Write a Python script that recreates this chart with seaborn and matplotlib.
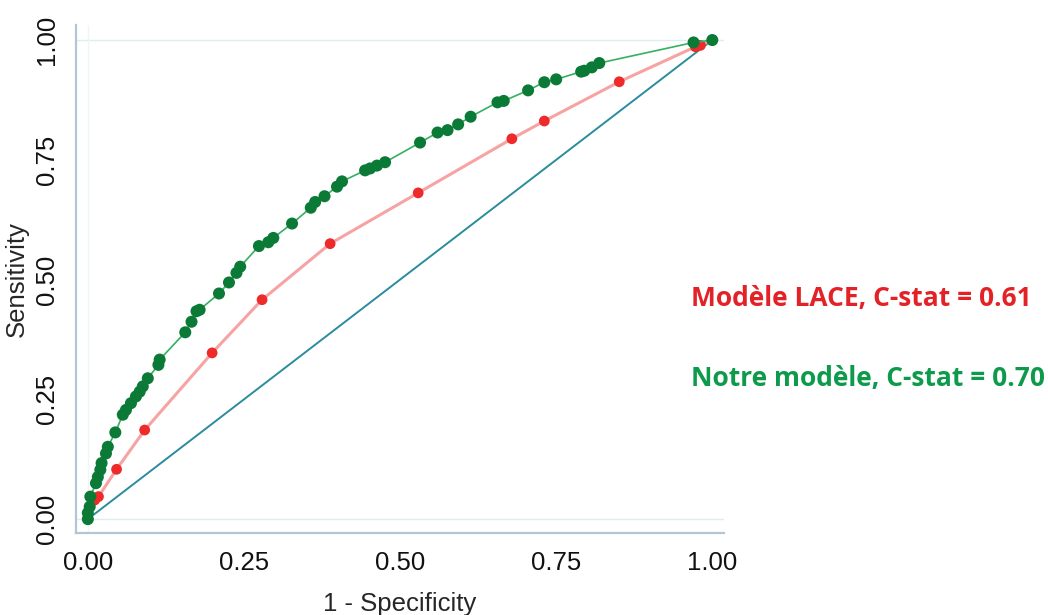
import numpy as np
import pandas as pd
import seaborn as sns
import matplotlib.pyplot as plt

# ROC points
notre_fpr = [0.0, 0.0, 0.003, 0.004, 0.013, 0.016, 0.020, 0.022, 0.029, 0.032,
             0.044, 0.056, 0.061, 0.069, 0.077, 0.083, 0.088, 0.096, 0.113, 0.115,
             0.156, 0.166, 0.174, 0.179, 0.210, 0.226, 0.238, 0.244, 0.274, 0.289,
             0.297, 0.327, 0.357, 0.364, 0.379, 0.399, 0.407, 0.444, 0.452, 0.463,
             0.476, 0.532, 0.560, 0.576, 0.593, 0.613, 0.656, 0.666, 0.705, 0.731,
             0.750, 0.790, 0.795, 0.807, 0.819, 0.970, 1.0]
notre_tpr = [0.0, 0.013, 0.026, 0.047, 0.075, 0.088, 0.103, 0.117, 0.137, 0.151,
             0.181, 0.218, 0.228, 0.242, 0.256, 0.266, 0.277, 0.294, 0.322, 0.333,
             0.390, 0.412, 0.434, 0.437, 0.471, 0.494, 0.514, 0.527, 0.570, 0.578,
             0.587, 0.617, 0.650, 0.662, 0.674, 0.694, 0.705, 0.728, 0.732, 0.738,
             0.745, 0.786, 0.807, 0.812, 0.824, 0.840, 0.870, 0.873, 0.895, 0.912,
             0.918, 0.934, 0.936, 0.943, 0.952, 0.995, 1.0]

lace_fpr = [0.0, 0.011, 0.017, 0.046, 0.091, 0.199, 0.279, 0.388, 0.529,
            0.679, 0.731, 0.851, 0.973, 0.981, 1.0]
lace_tpr = [0.0, 0.040, 0.047, 0.104, 0.186, 0.347, 0.458, 0.575, 0.681,
            0.794, 0.831, 0.913, 0.986, 0.989, 1.0]

ref_line = [0.0, 1.0]
ticks = [0.0, 0.25, 0.5, 0.75, 1.0]
tick_labels = ["0.00", "0.25", "0.50", "0.75", "1.00"]

sns.set_style("white")
plt.rcParams['font.family'] = ['Liberation Sans', 'DejaVu Sans']

fig = plt.figure(figsize=(10.48, 6.15), dpi=100)
ax = fig.add_axes([0.0725, 0.1333, 0.6185, 0.8257])

grid_col = "#dcefef"
ax.axhline(0, color=grid_col, lw=1, zorder=0)
ax.axhline(1, color=grid_col, lw=1, zorder=0)
ax.axvline(0, color="#eef6f6", lw=1, zorder=0)

# reference diagonal
sns.lineplot(x=ref_line, y=ref_line, ax=ax, color="#2a8c9c", lw=1.4, zorder=2)

# LACE model
sns.lineplot(x=lace_fpr, y=lace_tpr, ax=ax, sort=False, color="#f7a3a3", lw=2.2, zorder=3)
sns.scatterplot(x=lace_fpr, y=lace_tpr, ax=ax, color="#ee2a2a", s=60,
                edgecolor="none", zorder=4)

# our model
sns.lineplot(x=notre_fpr, y=notre_tpr, ax=ax, sort=False, color="#34b060", lw=1.2, zorder=5)
sns.scatterplot(x=notre_fpr, y=notre_tpr, ax=ax, color="#0b7a36", s=75,
                edgecolor="none", zorder=6)

ax.set_xlim(-0.019, 1.019)
ax.set_ylim(-0.029, 1.031)
ax.set_xticks(ticks)
ax.set_xticklabels(tick_labels)
ax.set_yticks(ticks)
ax.set_yticklabels(tick_labels, rotation=90, va="center")
ax.tick_params(axis="both", length=6, width=1, color="#a9bccb", labelsize=18.5,
               labelcolor="#111111", direction="out")
ax.tick_params(axis="x", pad=7)
ax.tick_params(axis="y", pad=6)

for side in ["top", "right"]:
    ax.spines[side].set_visible(False)
for side in ["left", "bottom"]:
    ax.spines[side].set_color("#b4c6d4")
    ax.spines[side].set_linewidth(1.6)

ax.set_xlabel("1 - Specificity", fontsize=18.5, labelpad=12)
ax.set_ylabel("Sensitivity", fontsize=18.5, labelpad=5)

fig.text(0.659, 0.514, "Modèle LACE, C-stat = 0.61", color="#e32228", fontsize=19,
         fontweight="bold", family=["Open Sans", "DejaVu Sans"], va="center")
fig.text(0.659, 0.384, "Notre modèle, C-stat = 0.70", color="#0d9a4a", fontsize=19,
         fontweight="bold", family=["Open Sans", "DejaVu Sans"], va="center")

fig.savefig("out.png", dpi=100)
